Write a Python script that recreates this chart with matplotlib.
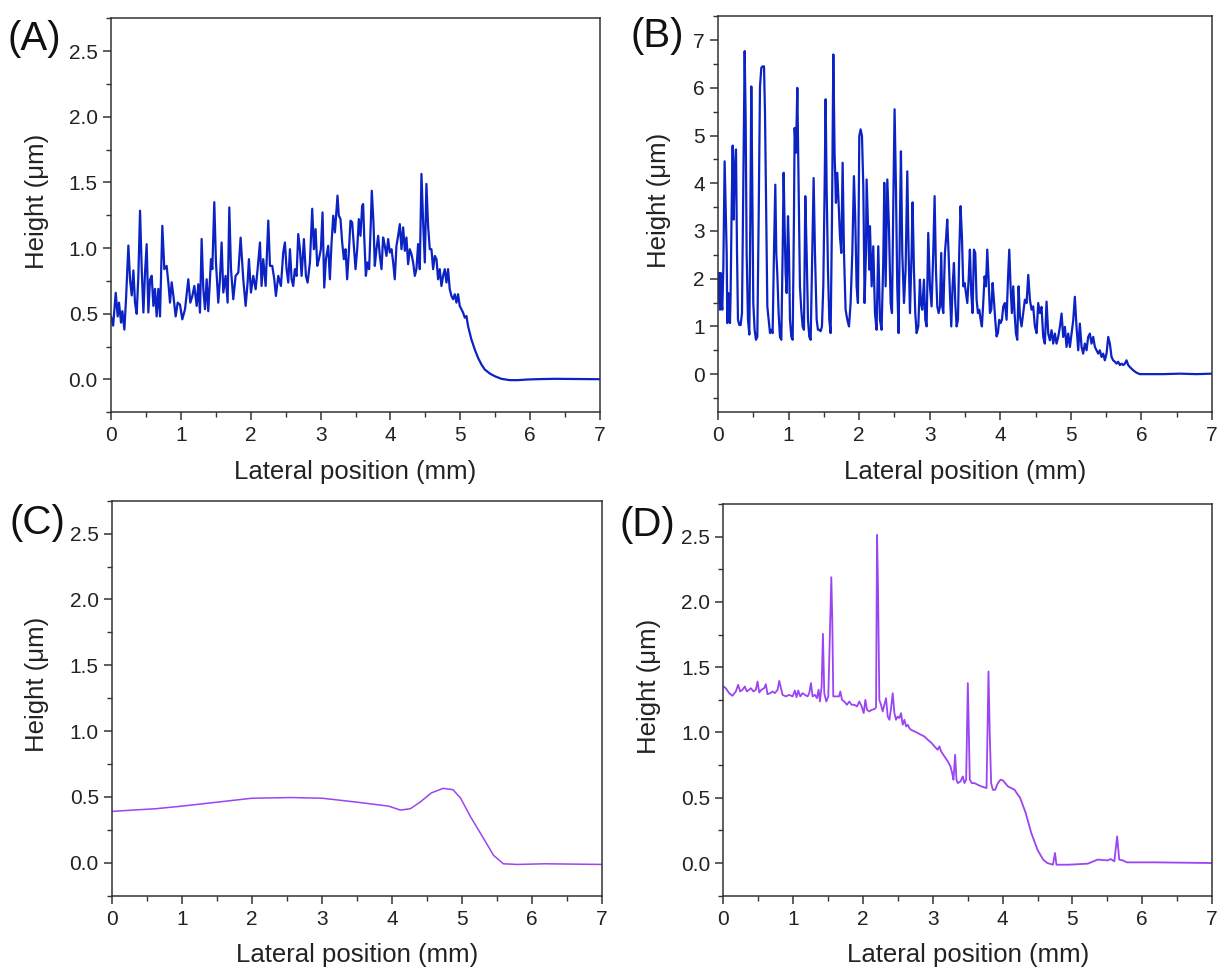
import matplotlib
matplotlib.use('Agg')
import matplotlib.pyplot as plt
from matplotlib.ticker import MultipleLocator, FormatStrFormatter

plt.rcParams['font.family'] = ['Liberation Sans', 'DejaVu Sans']

# ---------------- data (lateral position mm, height um) ----------------
profile_a = [
    (0.00,0.48),(0.03,0.41),(0.067,0.66),(0.095,0.48),(0.114,0.585),(0.143,0.433),(0.162,0.52),(0.191,0.38),
    (0.215,0.62),(0.248,1.02),(0.272,0.76),(0.296,0.64),(0.32,0.83),(0.343,0.585),(0.367,0.50),(0.391,0.79),
    (0.415,1.285),(0.439,0.84),(0.463,0.51),(0.486,0.81),(0.51,1.03),(0.534,0.51),(0.558,0.76),(0.582,0.79),
    (0.606,0.56),(0.629,0.69),(0.653,0.48),(0.677,0.69),(0.701,0.48),(0.734,1.17),(0.763,0.84),(0.796,0.865),
    (0.82,0.74),(0.844,0.585),(0.868,0.74),(0.892,0.64),(0.925,0.48),(0.954,0.585),(0.987,0.57),(1.02,0.458),
    (1.059,0.535),(1.106,0.763),(1.135,0.585),(1.164,0.636),(1.192,0.712),(1.226,0.56),(1.249,0.725),(1.273,0.509),
    (1.297,1.07),(1.321,0.687),(1.345,0.535),(1.369,0.763),(1.392,0.52),(1.431,0.916),(1.45,0.84),(1.478,1.35),
    (1.502,0.89),(1.535,0.585),(1.559,0.763),(1.583,1.043),(1.607,0.662),(1.64,0.789),(1.669,0.585),(1.693,1.31),
    (1.717,0.84),(1.75,0.611),(1.783,0.789),(1.822,0.814),(1.855,1.08),(1.893,0.763),(1.927,0.56),(1.955,0.738),
    (1.974,0.916),(2.003,0.662),(2.036,0.789),(2.07,0.687),(2.098,0.84),(2.132,1.043),(2.155,0.712),(2.179,0.916),
    (2.213,0.712),(2.251,1.21),(2.275,0.865),(2.308,0.865),(2.337,0.763),(2.36,0.636),(2.394,0.789),(2.432,0.712),
    (2.465,0.967),(2.489,1.043),(2.513,0.84),(2.537,0.738),(2.561,0.992),(2.585,0.763),(2.608,0.712),(2.632,0.84),
    (2.656,0.789),(2.68,1.107),(2.704,0.992),(2.728,0.789),(2.761,1.069),(2.79,0.789),(2.814,0.738),(2.847,0.89),
    (2.88,1.30),(2.904,0.992),(2.928,1.145),(2.952,0.865),(2.976,0.916),(3.004,0.992),(3.028,1.272),(3.052,0.70),
    (3.076,0.916),(3.109,1.018),(3.133,0.763),(3.157,1.043),(3.181,1.247),(3.205,1.12),(3.242,1.40),(3.261,1.247),
    (3.285,1.221),(3.309,1.043),(3.333,0.916),(3.357,0.992),(3.38,0.763),(3.404,0.967),(3.428,1.209),(3.452,1.196),
    (3.476,1.018),(3.5,0.84),(3.524,0.992),(3.547,1.221),(3.571,1.094),(3.595,1.323),(3.609,1.336),(3.624,1.094),
    (3.648,0.789),(3.671,0.891),(3.695,0.84),(3.719,1.196),(3.733,1.437),(3.757,1.196),(3.776,0.865),(3.8,0.992),
    (3.824,1.094),(3.848,0.941),(3.872,0.84),(3.895,1.081),(3.919,1.018),(3.943,0.941),(3.967,1.069),(3.991,0.967),
    (4.015,0.992),(4.039,0.891),(4.062,0.763),(4.086,1.018),(4.11,1.094),(4.134,1.183),(4.158,0.992),(4.182,1.158),
    (4.206,0.98),(4.229,1.081),(4.253,0.878),(4.277,0.992),(4.301,0.954),(4.325,0.891),(4.349,0.789),(4.372,0.84),
    (4.396,1.031),(4.42,0.84),(4.444,1.565),(4.468,1.196),(4.492,0.891),(4.515,1.489),(4.539,1.17),(4.563,0.992),
    (4.587,0.992),(4.611,0.84),(4.635,0.941),(4.659,0.916),(4.682,0.763),(4.706,0.84),(4.73,0.712),(4.754,0.789),
    (4.778,0.84),(4.802,0.738),(4.825,0.84),(4.849,0.687),(4.873,0.636),(4.897,0.611),(4.921,0.649),(4.945,0.585),
    (4.968,0.649),(4.992,0.56),(5.016,0.534),(5.04,0.509),(5.064,0.471),(5.088,0.483),(5.111,0.407),(5.159,0.305),
    (5.207,0.229),(5.254,0.165),(5.302,0.115),(5.35,0.076),(5.421,0.046),(5.493,0.025),(5.588,0.005),(5.707,-0.005),
    (5.826,-0.005),(5.969,0.0),(6.161,0.003),(6.35,0.005),(7.0,0.002),
]

profile_b = [
    (0.0,1.49),(0.014,2.12),(0.028,1.35),(0.038,2.12),(0.047,1.56),(0.061,1.35),(0.076,2.26),(0.094,4.46),
    (0.113,3.24),(0.123,2.54),(0.132,1.07),(0.146,1.70),(0.161,1.35),(0.17,1.07),(0.179,1.70),(0.194,3.52),
    (0.208,4.79),(0.222,3.24),(0.236,4.29),(0.255,4.71),(0.269,2.61),(0.283,1.14),(0.302,1.03),(0.321,1.03),
    (0.34,1.28),(0.359,3.94),(0.378,6.77),(0.392,5.34),(0.406,2.54),(0.425,1.14),(0.444,0.83),(0.458,3.24),
    (0.472,6.03),(0.486,3.94),(0.5,1.49),(0.519,0.93),(0.538,0.72),(0.557,0.78),(0.576,3.24),(0.595,6.03),
    (0.614,6.42),(0.633,6.45),(0.652,6.45),(0.666,5.48),(0.68,3.80),(0.699,1.42),(0.718,1.14),(0.737,0.86),
    (0.755,0.93),(0.774,0.86),(0.793,2.54),(0.812,3.97),(0.826,2.54),(0.84,2.12),(0.859,1.28),(0.878,0.78),
    (0.897,0.72),(0.916,2.54),(0.93,4.22),(0.944,3.10),(0.958,2.12),(0.973,1.70),(0.992,3.31),(1.006,2.54),
    (1.02,1.14),(1.039,0.78),(1.058,0.72),(1.076,3.24),(1.086,5.16),(1.105,4.64),(1.124,6.0),(1.143,3.94),
    (1.161,1.84),(1.18,1.35),(1.199,1.00),(1.218,0.93),(1.237,3.73),(1.256,2.54),(1.275,1.14),(1.294,0.78),
    (1.313,0.72),(1.336,2.54),(1.355,4.11),(1.374,2.54),(1.398,1.14),(1.416,0.93),(1.435,0.93),(1.454,0.90),
    (1.473,1.00),(1.492,1.84),(1.511,3.94),(1.525,5.76),(1.539,3.94),(1.558,2.19),(1.577,1.14),(1.596,0.86),
    (1.615,3.24),(1.634,6.70),(1.652,4.64),(1.671,3.59),(1.69,4.22),(1.709,3.59),(1.728,2.89),(1.747,2.54),
    (1.766,4.43),(1.785,2.54),(1.808,1.35),(1.832,1.14),(1.856,1.00),(1.879,1.49),(1.903,2.54),(1.926,4.15),
    (1.945,3.24),(1.964,1.84),(1.983,1.49),(2.002,4.99),(2.021,5.13),(2.04,4.99),(2.059,3.94),(2.077,1.49),
    (2.096,2.54),(2.106,4.08),(2.125,3.10),(2.144,2.19),(2.153,3.10),(2.177,1.84),(2.2,2.68),(2.224,1.28),
    (2.247,0.93),(2.271,2.68),(2.295,1.14),(2.318,0.93),(2.342,2.40),(2.356,4.01),(2.375,1.84),(2.399,4.08),
    (2.422,3.10),(2.446,1.49),(2.465,1.28),(2.484,3.59),(2.502,5.55),(2.521,3.94),(2.54,1.84),(2.559,0.86),
    (2.578,3.24),(2.592,4.67),(2.611,2.54),(2.635,1.49),(2.658,2.19),(2.682,4.25),(2.701,2.54),(2.72,1.28),
    (2.743,2.54),(2.757,3.60),(2.776,2.19),(2.795,1.28),(2.814,0.86),(2.838,1.00),(2.861,1.98),(2.875,1.49),
    (2.894,1.35),(2.918,1.98),(2.937,1.14),(2.956,1.00),(2.979,2.96),(3.003,1.84),(3.026,1.42),(3.05,2.54),
    (3.069,3.73),(3.088,2.19),(3.107,1.42),(3.126,1.28),(3.145,1.42),(3.163,2.54),(3.178,1.42),(3.192,1.28),
    (3.215,2.54),(3.23,2.82),(3.248,3.24),(3.267,2.54),(3.286,1.70),(3.305,1.00),(3.324,1.84),(3.343,2.33),
    (3.362,1.49),(3.381,1.00),(3.4,1.14),(3.418,2.54),(3.437,3.52),(3.456,2.89),(3.475,1.84),(3.494,1.91),
    (3.513,1.70),(3.532,1.49),(3.551,1.98),(3.569,2.61),(3.588,1.70),(3.607,1.28),(3.626,2.61),(3.645,2.54),
    (3.664,1.56),(3.683,1.28),(3.702,1.35),(3.721,1.14),(3.739,1.00),(3.758,1.49),(3.777,2.05),(3.796,1.84),
    (3.815,2.61),(3.834,1.98),(3.853,1.28),(3.872,1.35),(3.891,1.91),(3.909,1.56),(3.928,1.14),(3.947,0.79),
    (3.966,0.86),(3.985,1.14),(4.004,1.07),(4.023,1.14),(4.042,1.42),(4.065,1.49),(4.089,1.14),(4.108,1.98),
    (4.127,2.61),(4.145,1.84),(4.164,1.28),(4.183,1.84),(4.202,1.28),(4.221,0.86),(4.24,0.72),(4.259,1.84),
    (4.278,1.21),(4.301,1.00),(4.325,1.28),(4.348,1.56),(4.372,1.49),(4.396,2.08),(4.419,1.56),(4.443,1.35),
    (4.466,1.42),(4.49,1.00),(4.514,0.86),(4.537,1.49),(4.561,1.28),(4.584,1.41),(4.608,0.78),(4.631,0.64),
    (4.655,1.52),(4.679,0.85),(4.702,0.71),(4.726,0.92),(4.75,0.64),(4.773,0.85),(4.797,0.64),(4.82,0.78),
    (4.844,0.99),(4.868,1.27),(4.891,0.78),(4.915,0.99),(4.938,0.57),(4.962,0.85),(4.986,0.57),(5.009,0.85),
    (5.033,1.13),(5.056,1.62),(5.08,0.99),(5.104,0.50),(5.127,1.06),(5.151,0.57),(5.174,0.43),(5.198,0.64),
    (5.222,0.50),(5.245,0.78),(5.269,0.85),(5.292,0.64),(5.316,0.78),(5.34,0.57),(5.363,0.50),(5.387,0.43),
    (5.41,0.50),(5.434,0.36),(5.458,0.43),(5.481,0.29),(5.505,0.43),(5.529,0.78),(5.552,0.64),(5.576,0.36),
    (5.599,0.29),(5.623,0.26),(5.647,0.22),(5.67,0.26),(5.694,0.19),(5.717,0.22),(5.741,0.19),(5.765,0.22),
    (5.788,0.29),(5.812,0.19),(5.835,0.15),(5.883,0.08),(5.93,0.03),(5.977,0.0),(6.308,0.0),(6.544,0.01),
    (6.78,0.0),(7.0,0.01),
]

profile_c = [
    (0.0,0.39),(0.3,0.40),(0.62,0.41),(1.0,0.43),(1.5,0.46),(2.0,0.49),(2.56,0.495),(3.0,0.49),(3.5,0.46),
    (3.95,0.43),(4.12,0.40),(4.26,0.41),(4.4,0.46),(4.56,0.53),(4.73,0.565),(4.87,0.555),(4.98,0.49),
    (5.12,0.35),(5.29,0.20),(5.45,0.056),(5.59,-0.008),(5.79,-0.013),(6.18,-0.008),(7.0,-0.013),
]

profile_d = [
    (0.0,1.352),(0.033,1.339),(0.081,1.301),(0.129,1.281),(0.177,1.314),(0.21,1.365),(0.239,1.314),(0.273,1.327),
    (0.306,1.352),(0.335,1.314),(0.368,1.327),(0.392,1.339),(0.43,1.314),(0.464,1.327),(0.488,1.39),(0.512,1.306),
    (0.545,1.327),(0.583,1.339),(0.607,1.37),(0.631,1.293),(0.67,1.301),(0.703,1.314),(0.736,1.301),(0.775,1.327),
    (0.799,1.395),(0.823,1.339),(0.846,1.288),(0.894,1.276),(0.942,1.288),(0.99,1.276),(1.023,1.321),(1.047,1.27),
    (1.071,1.321),(1.1,1.276),(1.133,1.301),(1.167,1.288),(1.205,1.276),(1.229,1.301),(1.253,1.378),(1.277,1.276),
    (1.31,1.288),(1.339,1.263),(1.363,1.327),(1.382,1.237),(1.406,1.352),(1.425,1.755),(1.444,1.301),(1.473,1.237),
    (1.502,1.276),(1.53,1.862),(1.545,2.189),(1.559,1.862),(1.573,1.276),(1.597,1.276),(1.626,1.276),(1.655,1.276),
    (1.674,1.314),(1.698,1.25),(1.731,1.237),(1.769,1.212),(1.803,1.237),(1.836,1.212),(1.875,1.212),(1.913,1.199),
    (1.946,1.237),(1.98,1.199),(2.009,1.148),(2.033,1.25),(2.056,1.173),(2.09,1.161),(2.123,1.173),(2.162,1.179),
    (2.186,1.191),(2.2,2.513),(2.214,2.117),(2.233,1.25),(2.257,1.212),(2.281,1.161),(2.305,1.212),(2.329,1.263),
    (2.353,1.122),(2.377,1.097),(2.401,1.186),(2.425,1.301),(2.449,1.148),(2.472,1.097),(2.496,1.122),(2.52,1.11),
    (2.544,1.148),(2.568,1.059),(2.592,1.097),(2.616,1.046),(2.64,1.059),(2.664,1.033),(2.688,1.02),(2.736,1.008),
    (2.783,0.995),(2.831,0.982),(2.879,0.969),(2.927,0.944),(2.975,0.923),(3.022,0.893),(3.07,0.867),(3.094,0.893),
    (3.118,0.855),(3.166,0.816),(3.214,0.778),(3.252,0.74),(3.276,0.689),(3.295,0.638),(3.319,0.829),(3.338,0.638),
    (3.357,0.612),(3.396,0.625),(3.429,0.663),(3.453,0.612),(3.477,0.638),(3.501,1.378),(3.515,0.995),(3.529,0.638),
    (3.558,0.612),(3.596,0.612),(3.644,0.599),(3.692,0.587),(3.74,0.579),(3.769,0.574),(3.797,1.467),(3.816,0.969),
    (3.835,0.612),(3.859,0.561),(3.893,0.561),(3.931,0.612),(3.969,0.638),(4.003,0.633),(4.036,0.612),(4.075,0.587),
    (4.122,0.574),(4.17,0.561),(4.218,0.523),(4.25,0.50),(4.33,0.383),(4.41,0.23),(4.5,0.10),(4.58,0.026),
    (4.64,0.0),(4.72,-0.013),(4.75,0.077),(4.77,-0.013),(4.94,-0.013),(5.22,-0.005),(5.36,0.026),(5.5,0.02),
    (5.55,0.03),(5.6,0.013),(5.64,0.204),(5.67,0.026),(5.72,0.02),(5.78,0.005),(6.17,0.005),(7.0,0.0),
]

panel_letters = ['(A)', '(B)', '(C)', '(D)']
x_label = 'Lateral position (mm)'
y_label = 'Height (\u03bcm)'

blue = '#0b22c4'
purple = '#9b44f3'
text_col = '#222222'

fig = plt.figure(figsize=(12.19, 9.69), dpi=100)

rects = [
    [0.0911, 0.5745, 0.4011, 0.4066],
    [0.5890, 0.5745, 0.4053, 0.4087],
    [0.0919, 0.0757, 0.4020, 0.4076],
    [0.5935, 0.0757, 0.4008, 0.4042],
]
profiles = [profile_a, profile_b, profile_c, profile_d]
colors = [blue, blue, purple, purple]
widths = [1.6, 1.6, 1.1, 1.3]
ylims = [(-0.25, 2.75), (-0.8, 7.5), (-0.25, 2.75), (-0.25, 2.75)]
ylabel_x = [-0.126, -0.096, -0.129, -0.128]
letter_pos = [(8, 39), (631, 36), (10, 523), (620, 525)]

for i, ax_rect in enumerate(rects):
    ax = fig.add_axes(ax_rect)
    xs = [p[0] for p in profiles[i]]
    ys = [p[1] for p in profiles[i]]
    ax.plot(xs, ys, color=colors[i], lw=widths[i], solid_joinstyle='round')
    ax.set_xlim(0, 7)
    ax.set_ylim(*ylims[i])
    ax.xaxis.set_major_locator(MultipleLocator(1))
    ax.xaxis.set_minor_locator(MultipleLocator(0.5))
    if i == 1:
        ax.yaxis.set_major_locator(MultipleLocator(1))
        ax.yaxis.set_minor_locator(MultipleLocator(0.5))
        ax.yaxis.set_major_formatter(FormatStrFormatter('%d'))
    else:
        ax.yaxis.set_major_locator(MultipleLocator(0.5))
        ax.yaxis.set_minor_locator(MultipleLocator(0.25))
        ax.yaxis.set_major_formatter(FormatStrFormatter('%.1f'))
    ax.xaxis.set_major_formatter(FormatStrFormatter('%d'))
    ax.tick_params(axis='both', which='major', direction='out', length=6, width=1.1,
                   labelsize=15, colors='#333333', labelcolor=text_col)
    ax.tick_params(axis='both', which='minor', direction='out', length=3.5, width=1.0,
                   colors='#333333')
    ax.tick_params(axis='x', which='major', pad=4)
    ax.tick_params(axis='y', which='major', pad=3.5)
    for s in ax.spines.values():
        s.set_linewidth(1.1)
        s.set_color('#333333')
    ax.set_xlabel(x_label, fontsize=18.5, color=text_col)
    ax.set_ylabel(y_label, fontsize=18.5, color=text_col)
    ax.xaxis.set_label_coords(0.5, -0.12)
    ax.yaxis.set_label_coords(ylabel_x[i], 0.535)
    lx, ly = letter_pos[i]
    fig.text(lx / 1219, 1 - ly / 969, panel_letters[i], fontsize=29, color='#111111',
             ha='left', va='center')

fig.savefig('out.png', dpi=100, facecolor='white')
